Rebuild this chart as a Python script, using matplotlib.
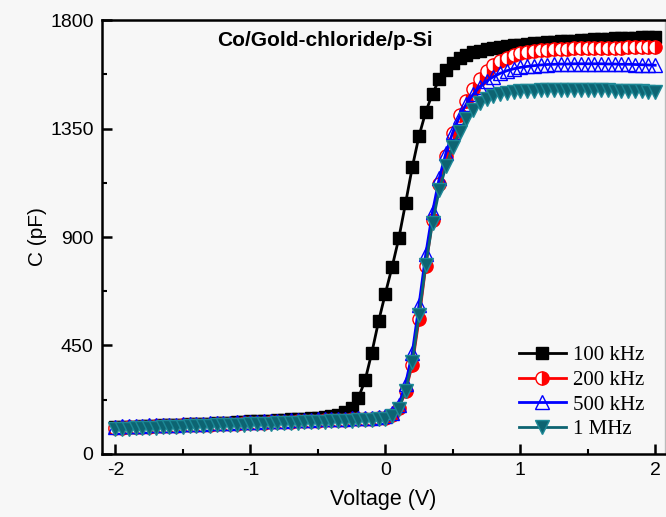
import matplotlib
matplotlib.use("Agg")
import matplotlib.pyplot as plt
from matplotlib.ticker import MultipleLocator

plt.rcParams["axes.unicode_minus"] = False

voltage = [-2.00, -1.95, -1.90, -1.85, -1.80, -1.75, -1.70, -1.65, -1.60, -1.55,
           -1.50, -1.45, -1.40, -1.35, -1.30, -1.25, -1.20, -1.15, -1.10, -1.05,
           -1.00, -0.95, -0.90, -0.85, -0.80, -0.75, -0.70, -0.65, -0.60, -0.55,
           -0.50, -0.45, -0.40, -0.35, -0.30, -0.25, -0.20, -0.15, -0.10, -0.05,
           0.00, 0.05, 0.10, 0.15, 0.20, 0.25, 0.30, 0.35, 0.40, 0.45,
           0.50, 0.55, 0.60, 0.65, 0.70, 0.75, 0.80, 0.85, 0.90, 0.95,
           1.00, 1.05, 1.10, 1.15, 1.20, 1.25, 1.30, 1.35, 1.40, 1.45,
           1.50, 1.55, 1.60, 1.65, 1.70, 1.75, 1.80, 1.85, 1.90, 1.95, 2.00]

c_100k = [110, 111, 112, 113, 115, 116, 117, 118, 119, 120,
          122, 123, 124, 125, 126, 128, 129, 130, 131, 133,
          135, 136, 137, 138, 140, 141, 143, 145, 147, 149,
          151, 154, 158, 163, 172, 192, 232, 305, 420, 550,
          665, 775, 895, 1040, 1190, 1320, 1420, 1495, 1555, 1595,
          1622, 1642, 1656, 1666, 1674, 1680, 1685, 1689, 1693, 1696,
          1699, 1702, 1704, 1706, 1708, 1710, 1712, 1714, 1715, 1717,
          1718, 1720, 1721, 1723, 1724, 1726, 1727, 1728, 1730, 1731, 1732]

c_200k = [108, 109, 110, 111, 112, 113, 114, 115, 116, 117,
          118, 119, 120, 121, 122, 123, 124, 125, 126, 127,
          128, 129, 130, 131, 132, 133, 134, 135, 136, 137,
          138, 139, 140, 141, 142, 143, 144, 145, 146, 148,
          150, 160, 190, 260, 370, 560, 780, 970, 1120, 1235,
          1330, 1405, 1465, 1515, 1555, 1588, 1613, 1632, 1645, 1655,
          1663, 1668, 1672, 1675, 1678, 1680, 1681, 1682, 1683, 1684,
          1684, 1685, 1685, 1686, 1686, 1686, 1687, 1687, 1687, 1687, 1687]

c_500k = [113, 114, 115, 116, 117, 118, 119, 120, 121, 122,
          123, 124, 125, 126, 127, 128, 129, 130, 131, 132,
          133, 134, 135, 136, 137, 138, 139, 140, 141, 142,
          143, 144, 145, 146, 147, 148, 149, 150, 151, 153,
          156, 168, 205, 290, 420, 620, 830, 1005, 1145, 1250,
          1335, 1400, 1452, 1492, 1523, 1547, 1565, 1579, 1590, 1598,
          1604, 1608, 1611, 1614, 1616, 1617, 1618, 1618, 1619, 1619,
          1619, 1619, 1619, 1618, 1618, 1617, 1617, 1616, 1615, 1614, 1613]

c_1M = [103, 104, 105, 106, 107, 108, 109, 110, 111, 112,
        113, 114, 115, 116, 117, 118, 119, 120, 121, 122,
        123, 124, 125, 126, 127, 128, 129, 130, 131, 132,
        133, 134, 135, 136, 137, 138, 139, 140, 141, 143,
        146, 158, 188, 262, 380, 575, 785, 960, 1095, 1195,
        1275, 1335, 1390, 1428, 1455, 1472, 1484, 1492, 1497, 1501,
        1504, 1506, 1508, 1509, 1510, 1510, 1511, 1511, 1511, 1511,
        1510, 1510, 1509, 1509, 1508, 1507, 1506, 1505, 1504, 1503, 1502]

labels = ["100 kHz", "200 kHz", "500 kHz", "1 MHz"]
title_text = "Co/Gold-chloride/p-Si"

bg = "#f7f7f7"
teal = "#0d6472"

fig = plt.figure(figsize=(6.66, 5.17), dpi=100, facecolor=bg)
ax = fig.add_axes([0.153, 0.122, 0.845, 0.839], facecolor=bg)

ax.plot(voltage, c_100k, color="black", lw=2.0, marker="s", ms=8.5,
        mfc="black", mec="black", label=labels[0])
ax.plot(voltage, c_200k, color="red", lw=2.0, marker="o", ms=9.5,
        fillstyle="right", mfc="red", mfcalt="white", mec="red", mew=1.0,
        label=labels[1])
ax.plot(voltage, c_500k, color="blue", lw=2.0, marker="^", ms=10,
        mfc="none", mec="blue", mew=1.0, label=labels[2])
ax.plot(voltage, c_1M, color=teal, lw=2.0, marker="v", ms=10,
        mfc=teal, mec="#1d8896", mew=1.0, label=labels[3])

ax.set_xlim(-2.1, 2.07)
ax.set_ylim(0, 1800)
ax.xaxis.set_major_locator(MultipleLocator(1))
ax.xaxis.set_minor_locator(MultipleLocator(0.5))
ax.yaxis.set_major_locator(MultipleLocator(450))
ax.yaxis.set_minor_locator(MultipleLocator(225))

for side in ["left", "bottom", "top"]:
    ax.spines[side].set_linewidth(1.8)
ax.spines["right"].set_linewidth(1.0)
ax.spines["right"].set_color("#bbbbbb")

ax.tick_params(which="major", direction="in", length=7, width=1.8,
               labelsize=14, pad=6, right=False, top=False)
ax.tick_params(which="minor", direction="in", length=3.5, width=1.5,
               right=False, top=False)
for lab in ax.get_xticklabels() + ax.get_yticklabels():
    lab.set_fontfamily("Liberation Sans")

ax.set_xlabel("Voltage (V)", fontsize=15.5, family="Liberation Sans", labelpad=7)
ax.set_ylabel("C (pF)", fontsize=15, family="Liberation Sans", labelpad=2)

ax.text(0.397, 0.954, title_text, transform=ax.transAxes, ha="center", va="center",
        fontsize=15, fontweight="bold", family="Liberation Sans")

leg = ax.legend(loc="lower right", frameon=False,
                prop={"family": "Liberation Serif", "size": 15},
                handlelength=2.3, handletextpad=0.3, labelspacing=0.25,
                borderaxespad=0.4, bbox_to_anchor=(0.993, -0.005))

fig.savefig("out.png", dpi=100, facecolor=bg)
